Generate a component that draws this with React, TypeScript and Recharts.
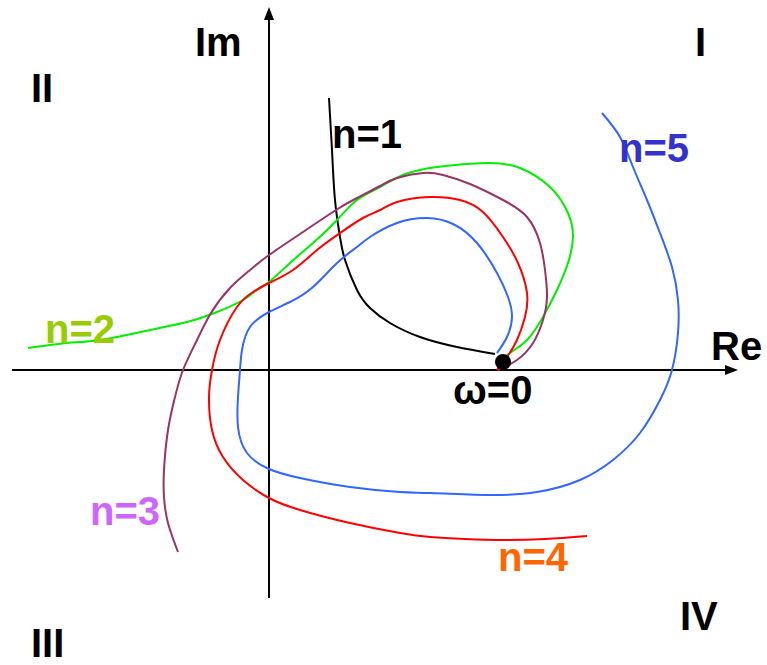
import { ComposedChart, Line, ReferenceDot, ReferenceLine, XAxis, YAxis } from "recharts";

type Pt = { re: number; im: number };
const toPts = (rows: number[][]): Pt[] => rows.map(([re, im]) => ({ re, im }));

// Nyquist-style curves, in Re/Im units, ordered along increasing frequency toward ω=0
const curveN1 = toPts([
  [0.6, 2.72], [0.63, 2.2], [0.66, 1.7], [0.71, 1.33], [0.76, 1.1], [0.88, 0.8],
  [1.01, 0.62], [1.21, 0.47], [1.51, 0.33], [1.88, 0.23], [2.26, 0.16],
]);

const curveN2 = toPts([
  [-2.41, 0.22], [-2.02, 0.27], [-1.69, 0.3], [-1.19, 0.4], [-0.82, 0.48], [-0.52, 0.58],
  [-0.26, 0.7], [-0.12, 0.8], [0.0, 0.88], [0.21, 1.07], [0.44, 1.27], [0.68, 1.5],
  [0.88, 1.7], [1.11, 1.83], [1.34, 1.95], [1.68, 2.03], [2.18, 2.07], [2.51, 2.02],
  [2.81, 1.83], [2.99, 1.57], [3.04, 1.33], [2.99, 1.07], [2.88, 0.8], [2.74, 0.53],
  [2.58, 0.3], [2.41, 0.17], [2.29, 0.06],
]);

const curveN3 = toPts([
  [-0.91, -1.82], [-1.01, -1.53], [-1.05, -1.27], [-1.05, -1.0], [-1.01, -0.6], [-0.94, -0.27],
  [-0.86, 0.0], [-0.72, 0.3], [-0.58, 0.57], [-0.39, 0.82], [-0.19, 1.0], [0.0, 1.15],
  [0.34, 1.38], [0.67, 1.6], [0.88, 1.72], [1.11, 1.84], [1.28, 1.92], [1.54, 1.97],
  [1.74, 1.95], [2.01, 1.86], [2.34, 1.7], [2.58, 1.53], [2.71, 1.27], [2.76, 1.0],
  [2.78, 0.73], [2.74, 0.5], [2.64, 0.27], [2.48, 0.1], [2.29, 0.0],
]);

const curveN4 = toPts([
  [3.18, -1.66], [2.76, -1.69], [2.34, -1.7], [1.96, -1.69], [1.61, -1.67], [1.31, -1.63],
  [0.81, -1.53], [0.31, -1.4], [0.0, -1.28], [-0.26, -1.1], [-0.46, -0.87], [-0.57, -0.6],
  [-0.6, -0.27], [-0.57, 0.0], [-0.49, 0.3], [-0.32, 0.63], [-0.16, 0.78], [0.0, 0.87],
  [0.24, 1.0], [0.48, 1.2], [0.71, 1.37], [0.94, 1.52], [1.11, 1.6], [1.28, 1.68],
  [1.61, 1.73], [1.91, 1.7], [2.14, 1.58], [2.34, 1.33], [2.49, 1.07], [2.58, 0.77],
  [2.56, 0.53], [2.48, 0.3], [2.38, 0.13], [2.28, 0.0],
]);

const curveN5 = toPts([
  [3.33, 2.57], [3.51, 2.33], [3.64, 2.03], [3.78, 1.7], [3.91, 1.37], [4.03, 1.03],
  [4.09, 0.7], [4.09, 0.37], [4.03, 0.0], [3.91, -0.3], [3.71, -0.63], [3.44, -0.9],
  [3.11, -1.1], [2.68, -1.22], [2.18, -1.25], [1.61, -1.23], [1.31, -1.22], [0.81, -1.17],
  [0.31, -1.08], [0.0, -0.99], [-0.22, -0.83], [-0.31, -0.57], [-0.31, -0.27], [-0.29, 0.0],
  [-0.27, 0.2], [-0.19, 0.43], [0.0, 0.58], [0.21, 0.68], [0.44, 0.83], [0.68, 1.07],
  [0.88, 1.23], [1.01, 1.33], [1.28, 1.47], [1.58, 1.52], [1.84, 1.46], [2.08, 1.27],
  [2.28, 0.97], [2.39, 0.73], [2.43, 0.53], [2.38, 0.33], [2.28, 0.17],
]);

// ω=0 end point where every curve meets
const omegaZero: Pt = { re: 2.34, im: 0.08 };

const W = 767;
const H = 665;
const X_DOMAIN: [number, number] = [-2.69, 4.98];
const Y_DOMAIN: [number, number] = [-2.95, 3.7];
const FONT = '"Liberation Sans", Arial, Helvetica, sans-serif';

const series = [
  { key: "n1", data: curveN1, stroke: "#000000" },
  { key: "n2", data: curveN2, stroke: "#00ee00" },
  { key: "n3", data: curveN3, stroke: "#993366" },
  { key: "n4", data: curveN4, stroke: "#ff0000" },
  { key: "n5", data: curveN5, stroke: "#3366ff" },
];

// text anchored at its left end, on the baseline
const labels = [
  { text: "Im", re: -0.74, im: 3.14, color: "#000" },
  { text: "Re", re: 4.42, im: 0.1, color: "#000" },
  { text: "I", re: 4.26, im: 3.14, color: "#000" },
  { text: "II", re: -2.38, im: 2.68, color: "#000" },
  { text: "III", re: -2.38, im: -2.87, color: "#000" },
  { text: "IV", re: 4.11, im: -2.6, color: "#000" },
  { text: "ω=0", re: 1.84, im: -0.34, color: "#000" },
  { text: "n=1", re: 0.63, im: 2.22, color: "#000" },
  { text: "n=2", re: -2.24, im: 0.27, color: "#99cc00" },
  { text: "n=3", re: -1.79, im: -1.55, color: "#cc66ff" },
  { text: "n=4", re: 2.29, im: -2.01, color: "#ff6600" },
  { text: "n=5", re: 3.5, im: 2.08, color: "#3333cc" },
];

const Arrow = ({ x1, y1, x2, y2, stroke }: any) => {
  const ang = Math.atan2(y2 - y1, x2 - x1);
  const len = 13;
  const half = 5;
  const bx = x2 - len * Math.cos(ang);
  const by = y2 - len * Math.sin(ang);
  const px = -Math.sin(ang) * half;
  const py = Math.cos(ang) * half;
  return (
    <g>
      <line x1={x1} y1={y1} x2={bx} y2={by} stroke={stroke} strokeWidth={2} />
      <polygon points={`${x2},${y2} ${bx + px},${by + py} ${bx - px},${by - py}`} fill={stroke} />
    </g>
  );
};

const tagShape = (text: string, color: string) => (p: any) => (
  <text x={p.cx} y={p.cy} fill={color} fontSize={40} fontWeight="bold" fontFamily={FONT}>
    {text}
  </text>
);

export default function App() {
  return (
    <div style={{ position: "absolute", left: 0, top: 0, width: W, height: H, background: "#fff" }}>
      <ComposedChart width={W} height={H} margin={{ top: 0, right: 0, bottom: 0, left: 0 }}>
        <XAxis type="number" dataKey="re" domain={X_DOMAIN} allowDataOverflow hide />
        <YAxis type="number" domain={Y_DOMAIN} allowDataOverflow hide />
        <ReferenceLine segment={[{ x: -2.57, y: 0 }, { x: 4.69, y: 0 }]} stroke="#000" shape={Arrow} />
        <ReferenceLine segment={[{ x: 0, y: -2.28 }, { x: 0, y: 3.63 }]} stroke="#000" shape={Arrow} />
        <ReferenceDot x={omegaZero.re} y={omegaZero.im} r={8} fill="#000" stroke="none" />
        {series.map((s) => (
          <Line
            key={s.key}
            data={s.data}
            dataKey="im"
            type="natural"
            stroke={s.stroke}
            strokeWidth={2}
            dot={false}
            activeDot={false}
            isAnimationActive={false}
          />
        ))}
        {labels.map((l) => (
          <ReferenceDot key={l.text} x={l.re} y={l.im} r={0} shape={tagShape(l.text, l.color)} />
        ))}
      </ComposedChart>
    </div>
  );
}
